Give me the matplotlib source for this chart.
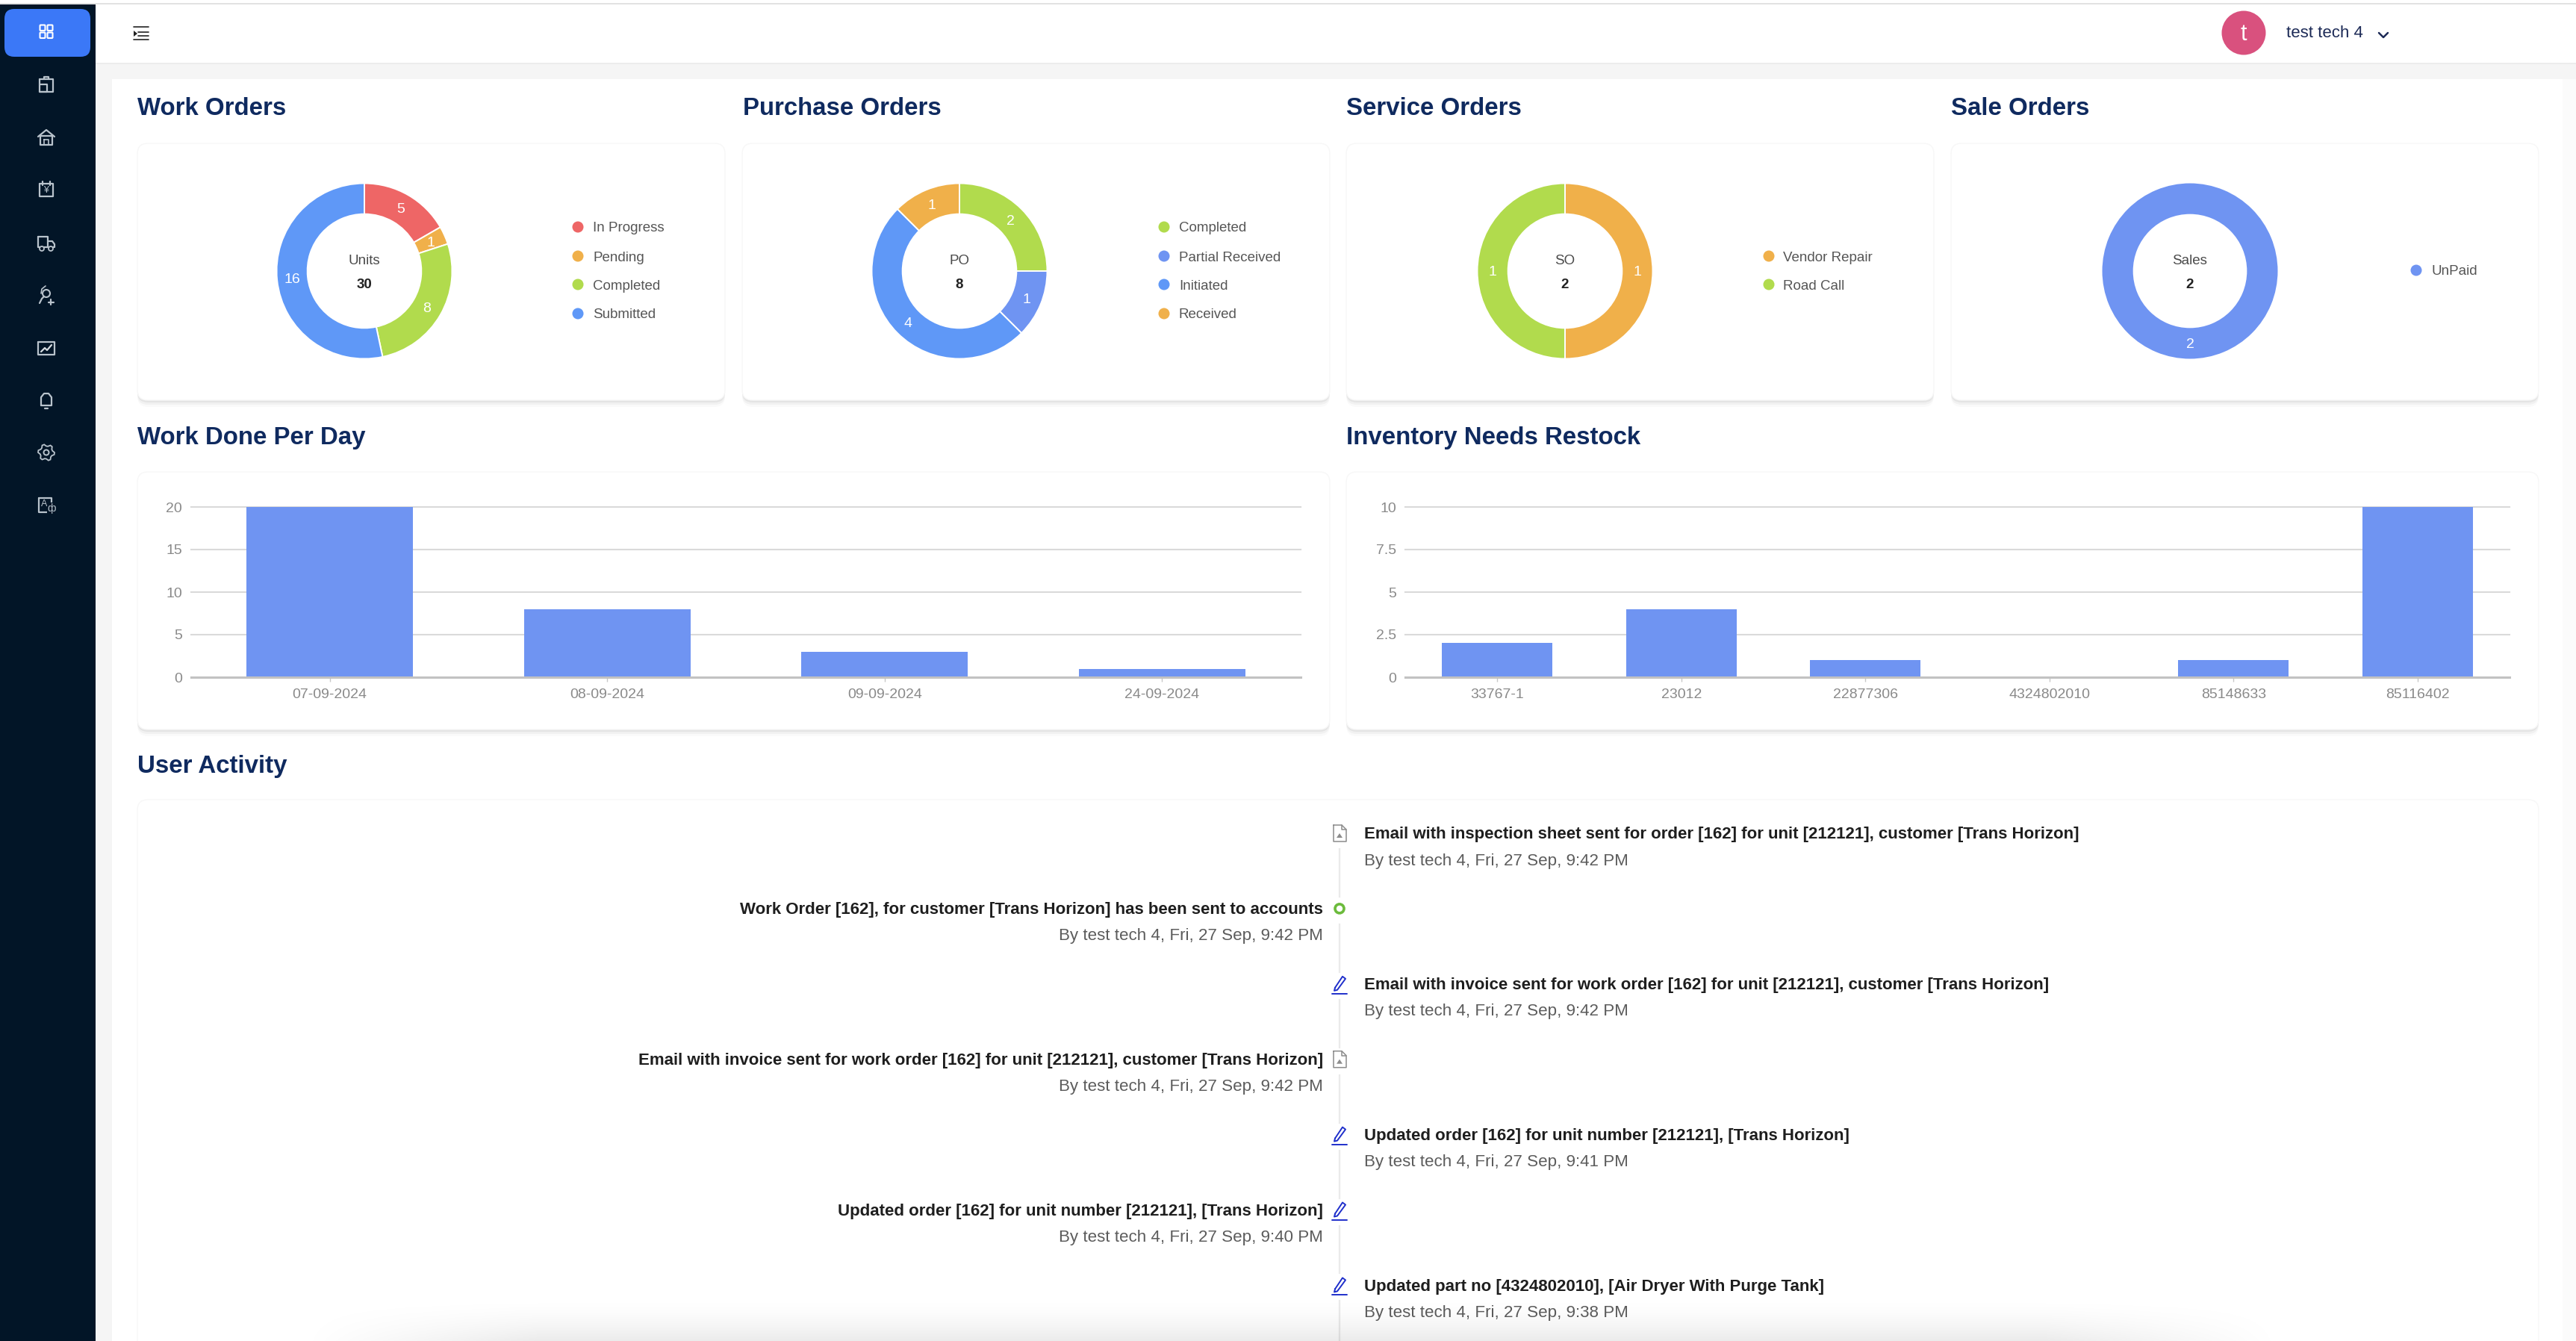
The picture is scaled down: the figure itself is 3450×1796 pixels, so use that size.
import numpy as np
import matplotlib
matplotlib.use("Agg")
import matplotlib.pyplot as plt
from matplotlib.patches import Circle, FancyBboxPatch, Rectangle, Polygon

plt.rcParams['font.family'] = ['Liberation Sans', 'DejaVu Sans']

W, H = 3450, 1796

# donut data
wo_labels = ["In Progress", "Pending", "Completed", "Submitted"]
wo_values = [5, 1, 8, 16]
wo_colors = ["#EE6666", "#F0B04A", "#B1DB4D", "#5F98F7"]

po_labels = ["Completed", "Partial Received", "Initiated", "Received"]
po_values = [2, 1, 4, 1]
po_colors = ["#B1DB4D", "#6F94F2", "#5F98F7", "#F0B04A"]

so_labels = ["Vendor Repair", "Road Call"]
so_values = [1, 1]
so_colors = ["#F0B04A", "#B1DB4D"]

sale_labels = ["UnPaid"]
sale_values = [2]
sale_colors = ["#6F94F2"]

# bar data
work_days = ["07-09-2024", "08-09-2024", "09-09-2024", "24-09-2024"]
work_done = [20, 8, 3, 1]
work_ticks = [0, 5, 10, 15, 20]

parts = ["33767-1", "23012", "22877306", "4324802010", "85148633", "85116402"]
restock = [2, 4, 1, 0, 1, 10]
restock_ticks = [0, 2.5, 5, 7.5, 10]
restock_ticklabels = ["0", "2.5", "5", "7.5", "10"]

# activity timeline
activity_titles = [
    "Email with inspection sheet sent for order [162] for unit [212121], customer [Trans Horizon]",
    "Work Order [162], for customer [Trans Horizon] has been sent to accounts",
    "Email with invoice sent for work order [162] for unit [212121], customer [Trans Horizon]",
    "Email with invoice sent for work order [162] for unit [212121], customer [Trans Horizon]",
    "Updated order [162] for unit number [212121], [Trans Horizon]",
    "Updated order [162] for unit number [212121], [Trans Horizon]",
    "Updated part no [4324802010], [Air Dryer With Purge Tank]",
]
activity_subs = [
    "By test tech 4, Fri, 27 Sep, 9:42 PM",
    "By test tech 4, Fri, 27 Sep, 9:42 PM",
    "By test tech 4, Fri, 27 Sep, 9:42 PM",
    "By test tech 4, Fri, 27 Sep, 9:42 PM",
    "By test tech 4, Fri, 27 Sep, 9:41 PM",
    "By test tech 4, Fri, 27 Sep, 9:40 PM",
    "By test tech 4, Fri, 27 Sep, 9:38 PM",
]
activity_icons = ["doc", "ring", "pen", "doc", "pen", "pen", "pen"]

NAVY = "#0F2A5F"
SIDEBAR = "#021527"
ICON = "#B9C3CC"

fig = plt.figure(figsize=(W / 100, H / 100), dpi=100, facecolor="white")
bg = fig.add_axes([0, 0, 1, 1])
bg.set_xlim(0, W)
bg.set_ylim(H, 0)
bg.axis("off")


def px_axes(x0, y0, x1, y1):
    ax = fig.add_axes([x0 / W, 1 - y1 / H, (x1 - x0) / W, (y1 - y0) / H])
    ax.patch.set_alpha(0)
    return ax


def card(x0, y0, x1, y1):
    for off, a in [(9, 0.02), (6, 0.035), (3, 0.05)]:
        bg.add_patch(FancyBboxPatch((x0, y0 + off), x1 - x0, y1 - y0,
                                    boxstyle="round,pad=0,rounding_size=14",
                                    fc="black", ec="none", alpha=a, zorder=2))
    bg.add_patch(FancyBboxPatch((x0, y0), x1 - x0, y1 - y0,
                                boxstyle="round,pad=0,rounding_size=14",
                                fc="white", ec="#F7F7F7", lw=1, zorder=3))


def line(xs, ys, color=ICON, lw=1.6, zorder=6):
    bg.plot(xs, ys, color=color, lw=lw, solid_capstyle="round", solid_joinstyle="round", zorder=zorder)


def box(x0, y0, x1, y1, color=ICON, lw=1.6):
    line([x0, x1, x1, x0, x0], [y0, y0, y1, y1, y0], color, lw)


def donut(cx, cy, labels, values, colors, name, total, legend_x, text_x, legend_ys):
    r = 117.5
    ax = px_axes(cx - r * 1.05, cy - r * 1.05, cx + r * 1.05, cy + r * 1.05)
    lw = 1.4 if len(values) > 1 else 0
    _, _, autos = ax.pie(values, colors=colors, startangle=90, counterclock=False, radius=1,
                         wedgeprops=dict(width=41 / 117, edgecolor="white", linewidth=lw),
                         autopct=lambda p: "%d" % round(p * sum(values) / 100), pctdistance=0.825,
                         textprops=dict(color="white", fontsize=14))
    for a in autos:
        a.set_y(a.get_position()[1] - 0.015)
    ax.set_xlim(-1.05, 1.05)
    ax.set_ylim(-1.05, 1.05)
    bg.text(cx, cy - 13, name, ha="center", va="center", fontsize=13.5, color="#4A4A4A", zorder=6)
    bg.text(cx, cy + 18, str(total), ha="center", va="center", fontsize=13.5, color="#222222",
            fontweight="bold", zorder=6)
    for lab, col, y in zip(labels, colors, legend_ys):
        bg.add_patch(Circle((legend_x, y), 7.5, fc=col, ec="none", zorder=6))
        bg.text(text_x, y + 2, lab, ha="left", va="center", fontsize=13.5, color="#555555", zorder=6)


def bars(x0, y0, x1, y1, cats, vals, ticks, ticklabels):
    ax = px_axes(x0, y0, x1, y1)
    ax.bar(range(len(cats)), vals, width=0.6, color="#6F94F2", zorder=3)
    ax.set_xlim(-0.5, len(cats) - 0.5)
    ax.set_ylim(0, ticks[-1])
    ax.set_xticks(range(len(cats)))
    ax.set_xticklabels(cats)
    ax.set_yticks(ticks)
    ax.set_yticklabels(ticklabels)
    ax.grid(axis="y", color="#DADADA", lw=1.5, zorder=1, clip_on=False)
    for s in ["top", "left", "right"]:
        ax.spines[s].set_visible(False)
    ax.spines["bottom"].set_color("#C2C2C2")
    ax.spines["bottom"].set_linewidth(2.2)
    ax.spines["bottom"].set_zorder(4)
    ax.tick_params(axis="x", length=4, width=1, color="#C8C8C8", pad=6.5, labelsize=14, labelcolor="#8A8A8A")
    ax.tick_params(axis="y", length=0, pad=8.5, labelsize=14, labelcolor="#8A8A8A")


def doc_icon(x, y, color="#8C8C8C"):
    line([x - 8, x + 3, x + 9, x + 9, x - 8, x - 8], [y - 11, y - 11, y - 5, y + 11, y + 11, y - 11], color, 1.1)
    line([x + 3, x + 3, x + 9], [y - 11, y - 5, y - 5], color, 1.1)
    bg.add_patch(Polygon([(x - 4, y + 6), (x, y), (x + 4, y + 6)], fc=color, ec="none", zorder=6))


def pen_icon(x, y, color="#1F2FCB"):
    line([x - 6, x + 4, x + 8, x - 3, x - 7, x - 6], [y + 5, y - 10, y - 7, y + 8, y + 9, y + 5], color, 1.4)
    line([x - 10, x + 10], [y + 13, y + 13], color, 1.4)


def sidebar_icons():
    cx = 62
    # dashboard grid (white, on active button)
    for dx in (-9.5, 0.5):
        for dy in (-9.5, 0.5):
            bg.add_patch(FancyBboxPatch((cx + dx + 1, 43 + dy), 7, 7.5, boxstyle="round,pad=0,rounding_size=1",
                                        fc="none", ec="white", lw=1.5, zorder=6))
    # clipboard
    y = 114
    box(cx - 9, y - 8, cx + 9, y + 9)
    line([cx - 9, cx + 1, cx + 1, cx - 9], [y - 1, y - 1, y + 9, y + 9])
    line([cx - 3, cx - 3, cx + 3, cx + 3], [y - 8, y - 11, y - 11, y - 8])
    # house
    y = 184
    line([cx - 11, cx, cx + 11], [y - 1, y - 10, y - 1])
    box(cx - 8, y - 2, cx + 8, y + 10)
    box(cx - 3, y + 3, cx + 3, y + 10, lw=1.2)
    # calendar
    y = 254
    box(cx - 9, y - 8, cx + 9, y + 9)
    line([cx - 5, cx - 5], [y - 11, y - 6])
    line([cx + 5, cx + 5], [y - 11, y - 6])
    bg.text(cx, y + 1, "\u00a5", color=ICON, fontsize=9, ha="center", va="center", zorder=6)
    # truck
    y = 325
    box(cx - 11, y - 8, cx + 2, y + 6)
    line([cx + 2, cx + 8, cx + 11, cx + 11, cx + 2], [y - 2, y - 2, y + 2, y + 6, y + 6])
    for dx in (-6, 6):
        bg.add_patch(Circle((cx + dx, y + 8), 3, fc=SIDEBAR, ec=ICON, lw=1.3, zorder=7))
    # person plus
    y = 395
    bg.add_patch(Circle((cx, y - 2), 5, fc="none", ec=ICON, lw=1.5, zorder=6))
    line([cx - 9, cx - 6, cx - 3], [y + 11, y + 5, y + 2])
    line([cx + 6, cx + 6], [y + 6, y + 13])
    line([cx + 3, cx + 10], [y + 10, y + 10])
    line([cx - 7, cx - 6, cx - 1], [y - 2, y - 8, y - 12], lw=1.2)
    # chart box
    y = 466
    box(cx - 11, y - 8, cx + 11, y + 9)
    line([cx - 7, cx - 2, cx + 1, cx + 7], [y + 5, y, y + 3, y - 4], "#D5DBE0")
    # bell
    y = 536
    line([cx - 7, cx - 7, cx - 3, cx + 3, cx + 7, cx + 7, cx - 7],
         [y + 7, y - 4, y - 9, y - 9, y - 4, y + 7, y + 7])
    line([cx - 2, cx + 2], [y + 11, y + 11])
    # gear
    y = 606
    bg.add_patch(Circle((cx, y), 3.5, fc="none", ec=ICON, lw=1.4, zorder=6))
    ang = np.radians(np.arange(0, 361, 15))
    rad = np.where(np.arange(len(ang)) % 4 < 2, 11, 8.5)
    bg.add_patch(Polygon(np.c_[cx + rad * np.cos(ang), y + rad * np.sin(ang)], fc="none", ec=ICON, lw=1.3, zorder=6))
    # translate box
    y = 677
    box(cx - 10, y - 10, cx + 7, y + 9)
    bg.text(cx - 3, y - 2, "A", color=ICON, fontsize=9, ha="center", va="center", zorder=6)
    bg.text(cx + 7, y + 4, "\u0444", color=ICON, fontsize=10, ha="center", va="center", zorder=7,
            bbox=dict(fc=SIDEBAR, ec="none", pad=0.5))


# page chrome
bg.add_patch(Rectangle((0, 0), W, H, fc="#F5F5F5", ec="none", zorder=0))
bg.add_patch(Rectangle((0, 0), W, 4, fc="white", ec="none", zorder=1))
bg.add_patch(Rectangle((0, 4), W, 2, fc="#E2E2E2", ec="none", zorder=1))
bg.add_patch(Rectangle((128, 6), W - 128, 78, fc="white", ec="none", zorder=1))
bg.add_patch(Rectangle((128, 84), W - 128, 2, fc="#ECECEC", ec="none", zorder=1))
bg.add_patch(Rectangle((150, 106), 3432 - 150, H - 106, fc="white", ec="none", zorder=1))
bg.add_patch(Rectangle((3432, 106), W - 3432, H - 106, fc="#FBFBFB", ec="none", zorder=1))
bg.add_patch(Rectangle((0, 6), 128, H - 6, fc=SIDEBAR, ec="none", zorder=4))
bg.add_patch(FancyBboxPatch((6, 12), 115, 64, boxstyle="round,pad=0,rounding_size=13",
                            fc="#3B78F7", ec="none", zorder=5))
sidebar_icons()

# header
for yy in (36, 43, 48, 53):
    line([185 if yy in (43, 48) else 179, 199], [yy, yy], "#222222", 1.2)
bg.add_patch(Polygon([(179, 41), (184, 45), (179, 49)], fc="#222222", ec="none", zorder=6))
bg.add_patch(Circle((3005, 44), 29.5, fc="#D9517E", ec="none", zorder=6))
bg.text(3005, 46, "t", color="white", fontsize=22, ha="center", va="center", zorder=7)
bg.text(3062, 45, "test tech 4", color="#1D2B57", fontsize=16, ha="left", va="center", zorder=6)
line([3186, 3192, 3198], [44, 50, 44], "#1D2B57", 1.8)

# section titles
titles = [(184, 145, "Work Orders"), (995, 145, "Purchase Orders"), (1803, 145, "Service Orders"),
          (2613, 145, "Sale Orders"), (184, 586, "Work Done Per Day"), (1803, 586, "Inventory Needs Restock"),
          (184, 1026, "User Activity")]
for x, y, t in titles:
    bg.text(x, y, t, color=NAVY, fontsize=23.8, fontweight="bold", ha="left", va="center", zorder=6)

# cards
for x0, x1 in [(184, 971), (994, 1781), (1803, 2590), (2613, 3400)]:
    card(x0, 192, x1, 536)
card(184, 632, 1781, 977)
card(1803, 632, 3400, 977)
card(184, 1071, 3400, H + 40)

legend4 = [304, 343, 381, 420]
donut(488, 363, wo_labels, wo_values, wo_colors, "Units", sum(wo_values), 774, 794, legend4)
donut(1285, 363, po_labels, po_values, po_colors, "PO", sum(po_values), 1559, 1579, legend4)
donut(2096, 363, so_labels, so_values, so_colors, "SO", sum(so_values), 2369, 2388, [343, 381])
donut(2933, 363, sale_labels, sale_values, sale_colors, "Sales", sum(sale_values), 3236, 3257, [362])

bars(256, 679, 1742, 907, work_days, work_done, work_ticks, [str(t) for t in work_ticks])
bars(1882, 679, 3361, 907, parts, restock, restock_ticks, restock_ticklabels)

# timeline
tx = 1794
row_y = [1116 + 100.9 * i for i in range(len(activity_titles))]
for i, y in enumerate(row_y):
    bottom = row_y[i + 1] - 16 if i + 1 < len(row_y) else H
    bg.plot([tx, tx], [y + 21, bottom], color="#EAEAEA", lw=1.6, zorder=5)
    kind = activity_icons[i]
    if kind == "doc":
        doc_icon(tx, y)
    elif kind == "pen":
        pen_icon(tx, y)
    else:
        bg.add_patch(Circle((tx, y), 6, fc="white", ec="#6CBB3C", lw=2.6, zorder=6))
    if i % 2 == 0:
        tex, ha = 1827, "left"
    else:
        tex, ha = 1772, "right"
    bg.text(tex, y + 2, activity_titles[i], color="#1E1E1E", fontsize=16, fontweight="bold", ha=ha, va="center", zorder=6)
    bg.text(tex, y + 37, activity_subs[i], color="#5C5C5C", fontsize=16.1, ha=ha, va="center", zorder=6)

# grey blur along the bottom edge
gy, gx = np.mgrid[0:1:60j, 0:1:400j]
edge = np.clip(np.minimum(gx, 1 - gx) / 0.12, 0, 1)
rgba = np.zeros((60, 400, 4))
rgba[..., 3] = 0.08 * gy ** 1.6 * edge
bg.imshow(rgba, extent=(400, 3060, H, H - 60), aspect="auto", zorder=8, interpolation="bilinear")
bg.set_xlim(0, W)
bg.set_ylim(H, 0)

fig.savefig("out.png", dpi=100)
